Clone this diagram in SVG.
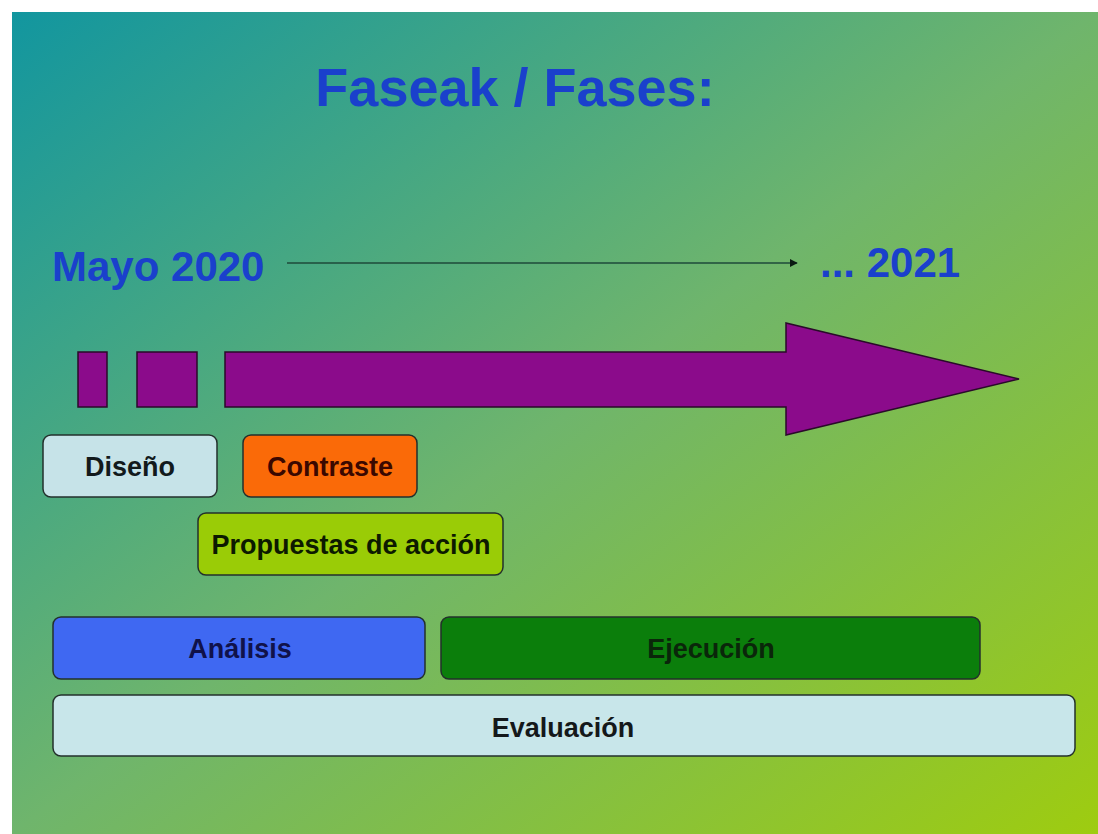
<svg xmlns="http://www.w3.org/2000/svg" width="1098" height="834" viewBox="0 0 1098 834">
  <defs>
    <linearGradient id="bg" x1="0" y1="0" x2="1" y2="1">
      <stop offset="0" stop-color="#12969f"/>
      <stop offset="0.5" stop-color="#6fb56c"/>
      <stop offset="1" stop-color="#9ecc10"/>
    </linearGradient>
    <marker id="ah" viewBox="0 0 10 10" refX="9" refY="5" markerWidth="8" markerHeight="8" markerUnits="userSpaceOnUse" orient="auto">
      <path d="M0,0 L10,5 L0,10 z" fill="#0a1a12"/>
    </marker>
    <style>
      .hdr { font-family: "Liberation Sans", Arial, sans-serif; font-weight: bold; fill: #1a40cc; }
      .box { stroke: #23302c; stroke-width: 1.5; }
      .lbl { font-family: "Liberation Sans", Arial, sans-serif; font-weight: bold; font-size: 27px; text-anchor: middle; }
      .pur { fill: #8b0b8b; stroke: #2a0a2a; stroke-width: 1.5; }
    </style>
  </defs>
  <rect x="0" y="0" width="1098" height="834" fill="#ffffff"/>
  <rect x="12" y="12" width="1086" height="822" fill="url(#bg)"/>

  <text class="hdr" x="515" y="106" font-size="54" text-anchor="middle">Faseak / Fases:</text>
  <text class="hdr" x="52" y="281" font-size="42">Mayo 2020</text>
  <text class="hdr" x="820" y="277" font-size="42">... 2021</text>

  <g id="connectors">
    <line x1="287" y1="263" x2="797" y2="263" stroke="#1e4a3a" stroke-width="1.6" marker-end="url(#ah)"/>
  </g>

  <g id="timeline">
    <rect class="pur" x="78" y="352" width="29" height="55"/>
    <rect class="pur" x="137" y="352" width="60" height="55"/>
    <path class="pur" d="M225,352 L786,352 L786,323 L1019,379 L786,435 L786,407 L225,407 Z"/>
  </g>

  <g id="diseno">
    <rect class="box" x="43" y="435" width="174" height="62" rx="8" fill="#c6e3e8"/>
    <text class="lbl" x="130" y="476" fill="#121a1c">Diseño</text>
  </g>
  <g id="contraste">
    <rect class="box" x="243" y="435" width="174" height="62" rx="8" fill="#fa6a08"/>
    <text class="lbl" x="330" y="476" fill="#3a0800">Contraste</text>
  </g>
  <g id="propuestas">
    <rect class="box" x="198" y="513" width="305" height="62" rx="8" fill="#9acc06" stroke="#2e4a10"/>
    <text class="lbl" x="351" y="554" fill="#0c1a00">Propuestas de acción</text>
  </g>
  <g id="analisis">
    <rect class="box" x="53" y="617" width="372" height="62" rx="8" fill="#3f68f2"/>
    <text class="lbl" x="240" y="658" font-size="25" fill="#10124a">Análisis</text>
  </g>
  <g id="ejecucion">
    <rect class="box" x="441" y="617" width="539" height="62" rx="8" fill="#0b7e0b"/>
    <text class="lbl" x="711" y="658" fill="#0a260a">Ejecución</text>
  </g>
  <g id="evaluacion">
    <rect class="box" x="53" y="695" width="1022" height="61" rx="8" fill="#c8e6ea"/>
    <text class="lbl" x="563" y="737" fill="#14181a">Evaluación</text>
  </g>
</svg>
